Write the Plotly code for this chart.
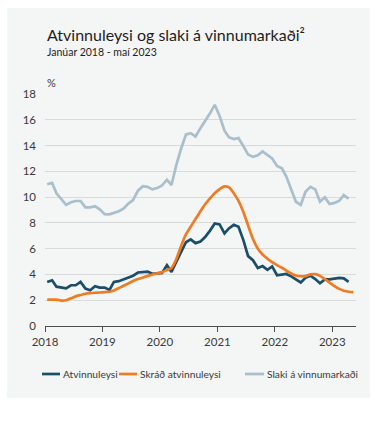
import pandas as pd
import plotly.graph_objects as go

# Monthly observations, January 2018 onward (values in %)
atvinnuleysi = [
    3.42, 3.55, 3.05, 2.97, 2.92, 3.16, 3.16, 3.42, 2.90, 2.78, 3.09, 2.98,
    2.98, 2.80, 3.42, 3.48, 3.62, 3.78, 3.90, 4.15, 4.18, 4.22, 4.05, 4.10,
    4.12, 4.72, 4.20, 5.00, 5.75, 6.50, 6.72, 6.43, 6.56, 6.90, 7.40, 7.95,
    7.88, 7.18, 7.57, 7.85, 7.70, 6.66, 5.42, 5.10, 4.50, 4.65, 4.36, 4.62,
    3.94, 4.00, 4.04, 3.85, 3.63, 3.38, 3.74, 3.90, 3.64, 3.32, 3.62, 3.62,
    3.68, 3.74, 3.70, 3.42,
]
skrad_atvinnuleysi = [
    2.05, 2.05, 2.05, 1.97, 2.00, 2.15, 2.30, 2.40, 2.50, 2.55, 2.58, 2.60,
    2.63, 2.66, 2.76, 2.94, 3.12, 3.30, 3.49, 3.64, 3.76, 3.88, 4.00, 4.08,
    4.18, 4.35, 4.50, 5.20, 6.20, 7.10, 7.70, 8.30, 8.90, 9.45, 9.90, 10.30,
    10.62, 10.83, 10.75, 10.30, 9.70, 8.85, 7.80, 6.75, 6.00, 5.55, 5.22, 4.95,
    4.72, 4.52, 4.30, 4.07, 3.92, 3.86, 3.87, 4.00, 4.02, 3.89, 3.64, 3.37,
    3.10, 2.88, 2.74, 2.66, 2.63,
]
slaki = [
    11.00, 11.10, 10.30, 9.85, 9.40, 9.60, 9.70, 9.70, 9.20, 9.20, 9.30, 9.05,
    8.68, 8.66, 8.75, 8.90, 9.10, 9.50, 9.77, 10.50, 10.85, 10.80, 10.60, 10.70,
    10.90, 11.35, 10.94, 12.50, 13.75, 14.85, 14.96, 14.70, 15.35, 15.90, 16.50, 17.16,
    16.30, 15.15, 14.65, 14.50, 14.58, 13.95, 13.30, 13.12, 13.25, 13.55, 13.27, 13.00,
    12.42, 12.24, 11.60, 10.60, 9.64, 9.39, 10.42, 10.80, 10.60, 9.64, 9.98, 9.46,
    9.55, 9.72, 10.16, 9.88,
]

series_names = ["Atvinnuleysi", "Skráð atvinnuleysi", "Slaki á vinnumarkaði"]
series_colors = ["#1b4e68", "#f07b23", "#a9bfcc"]
year_ticks = ["2018", "2019", "2020", "2021", "2022", "2023"]
y_ticks = [0, 2, 4, 6, 8, 10, 12, 14, 16, 18]

# each month plotted in the middle of its slot
months = pd.date_range("2018-01-01", periods=len(skrad_atvinnuleysi), freq="MS") + pd.Timedelta(days=14)

FONT = "Lato"
TXT = "#3a3a3a"

W, H = 374, 423
ML, MR, MT, MB = 45, 18, 94, 97
PW, PH = W - ML - MR, H - MT - MB


def px(xp):
    return (xp - ML) / PW


def py(yp):
    return (H - MB - yp) / PH


fig = go.Figure()
# draw order: light series at the back
for name, vals, col in [
    (series_names[2], slaki, series_colors[2]),
    (series_names[0], atvinnuleysi, series_colors[0]),
    (series_names[1], skrad_atvinnuleysi, series_colors[1]),
]:
    fig.add_trace(go.Scatter(
        x=months[:len(vals)], y=vals, mode="lines", name=name,
        line=dict(color=col, width=2.7,
                  shape="spline" if name == series_names[1] else "linear",
                  smoothing=0.6),
        showlegend=False,
    ))

shapes = [
    # light panel behind the whole chart
    dict(type="rect", xref="paper", yref="paper",
         x0=px(7), x1=px(370), y0=py(398), y1=py(8),
         fillcolor="#f4f5f5", line=dict(width=0), layer="below"),
]
annotations = [
    dict(text="Atvinnuleysi og slaki á vinnumarkaði²", xref="paper", yref="paper",
         x=px(45), y=py(35), xanchor="left", yanchor="middle", showarrow=False,
         font=dict(family=FONT, size=16, color="#1e1e1e")),
    dict(text="Janúar 2018 - maí 2023", xref="paper", yref="paper",
         x=px(45), y=py(52.5), xanchor="left", yanchor="middle", showarrow=False,
         font=dict(family=FONT, size=10.5, color="#1e1e1e")),
    dict(text="%", xref="paper", yref="paper",
         x=px(45), y=py(82), xanchor="left", yanchor="middle", showarrow=False,
         font=dict(family=FONT, size=11, color=TXT)),
]

# legend row: short line sample followed by its label
legend_items = [(42, 60, 61), (119, 137, 138), (245, 264, 265)]
for (x0, x1, xt), name, col in zip(legend_items, series_names, series_colors):
    shapes.append(dict(type="line", xref="paper", yref="paper",
                       x0=px(x0), x1=px(x1), y0=py(374), y1=py(374),
                       line=dict(color=col, width=2.7)))
    annotations.append(dict(text=name, xref="paper", yref="paper",
                            x=px(xt), y=py(374), xanchor="left", yanchor="middle",
                            showarrow=False, font=dict(family=FONT, size=10.2, color=TXT)))

fig.update_layout(
    width=W, height=H,
    margin=dict(l=ML, r=MR, t=MT, b=MB),
    paper_bgcolor="white",
    plot_bgcolor="rgba(0,0,0,0)",
    font=dict(family=FONT, size=12, color=TXT),
    shapes=shapes,
    annotations=annotations,
    showlegend=False,
    xaxis=dict(
        type="date",
        range=["2018-01-01", "2023-06-01"],
        tickvals=[f"{y}-01-01" for y in year_ticks],
        ticktext=year_ticks,
        showgrid=False,
        showline=True, linecolor="#4d4d4d", linewidth=1,
        ticks="outside", ticklen=5, tickcolor="#4d4d4d",
        tickfont=dict(family=FONT, size=11.5, color=TXT),
        fixedrange=True,
    ),
    yaxis=dict(
        range=[0, 18],
        tickvals=y_ticks,
        showgrid=True, gridcolor="#dadada", gridwidth=1,
        zeroline=False, showline=False, ticks="",
        tickfont=dict(family=FONT, size=11.5, color=TXT),
        ticklabelstandoff=8,
        fixedrange=True,
    ),
)

fig.write_html("out.html", config={"displayModeBar": False})
